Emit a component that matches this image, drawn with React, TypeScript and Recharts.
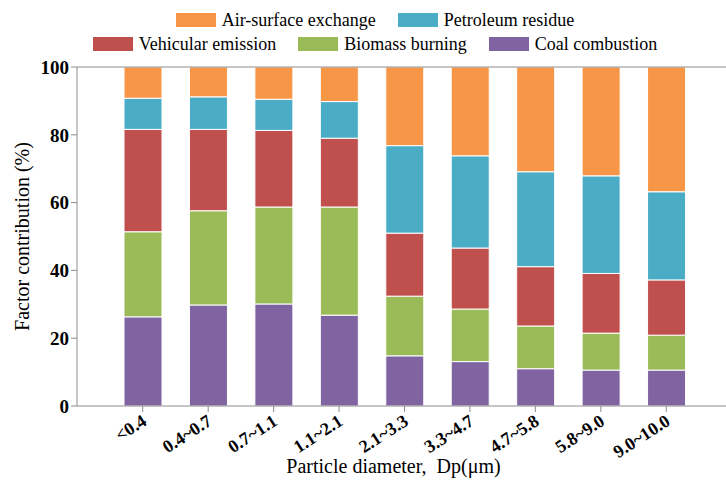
import React from "react";
import { BarChart, Bar, XAxis, YAxis, ReferenceLine } from "recharts";

const sizeBins = [
  "<0.4",
  "0.4~0.7",
  "0.7~1.1",
  "1.1~2.1",
  "2.1~3.3",
  "3.3~4.7",
  "4.7~5.8",
  "5.8~9.0",
  "9.0~10.0",
];

// stacked bottom -> top
const coalCombustion = [26.3, 29.8, 30.1, 26.8, 14.8, 13.1, 11.0, 10.6, 10.6];
const biomassBurning = [25.1, 27.8, 28.6, 31.9, 17.6, 15.5, 12.6, 10.9, 10.3];
const vehicularEmission = [30.2, 24.0, 22.6, 20.3, 18.6, 18.0, 17.5, 17.6, 16.3];
const petroleumResidue = [9.2, 9.6, 9.2, 10.8, 25.8, 27.2, 28.0, 28.8, 26.0];
const airSurfaceExchange = [9.2, 8.8, 9.5, 10.2, 23.2, 26.2, 30.9, 32.1, 36.8];

const yTicks = [0, 20, 40, 60, 80, 100];

const FONT = "Liberation Serif, Tinos, Times New Roman, Times, DejaVu Serif, serif";
const AXIS_GREY = "#8c8c8c";

const series = [
  { key: "coal", name: "Coal combustion", color: "#8064A2", values: coalCombustion },
  { key: "biomass", name: "Biomass burning", color: "#9BBB59", values: biomassBurning },
  { key: "vehicular", name: "Vehicular emission", color: "#C0504D", values: vehicularEmission },
  { key: "petroleum", name: "Petroleum residue", color: "#4BACC6", values: petroleumResidue },
  { key: "air", name: "Air-surface exchange", color: "#F79646", values: airSurfaceExchange },
];

const data = sizeBins.map((bin, i) => {
  const row: Record<string, string | number> = { bin };
  series.forEach((s) => {
    row[s.key] = s.values[i];
  });
  return row;
});

const legendRows = [
  ["air", "petroleum"],
  ["vehicular", "biomass", "coal"],
];

function ChartLegend() {
  return (
    <div
      style={{
        position: "absolute",
        top: 8,
        left: 25,
        width: 700,
        fontFamily: FONT,
        fontSize: 18,
        color: "#000",
      }}
    >
      {legendRows.map((row, r) => (
        <div
          key={r}
          style={{
            display: "flex",
            justifyContent: "center",
            height: 24,
            lineHeight: "24px",
            gap: 22,
          }}
        >
          {row.map((k) => {
            const s = series.find((x) => x.key === k)!;
            return (
              <div key={k} style={{ display: "flex", alignItems: "center" }}>
                <span
                  style={{
                    display: "inline-block",
                    width: 40,
                    height: 14,
                    background: s.color,
                    marginRight: 6,
                  }}
                />
                <span>{s.name}</span>
              </div>
            );
          })}
        </div>
      ))}
    </div>
  );
}

function XTick(props: any) {
  const { x, y, payload } = props;
  return (
    <g transform={`translate(${x + 5},${y + 10})`}>
      <text
        transform="rotate(-33)"
        textAnchor="end"
        fontFamily={FONT}
        fontSize={18}
        fontWeight="bold"
        fill="#000"
      >
        {payload.value}
      </text>
    </g>
  );
}

export default function App() {
  return (
    <div style={{ position: "absolute", left: 0, top: 0, width: 726, height: 490 }}>
      <BarChart
        width={726}
        height={490}
        data={data}
        margin={{ top: 67, right: 0, left: 0, bottom: 0 }}
        barSize={38}
      >
        <XAxis
          dataKey="bin"
          interval={0}
          height={84}
          padding={{ left: 33, right: 27 }}
          stroke={AXIS_GREY}
          tickSize={6}
          tick={<XTick />}
          label={{
            content: (p: any) => {
              const vb = p.viewBox;
              return (
                <text
                  x={vb.x + vb.width / 2 - 8}
                  y={vb.y + 60}
                  textAnchor="middle"
                  dominantBaseline="central"
                  fontFamily={FONT}
                  fontSize={20}
                  fill="#000"
                >
                  Particle diameter,{"\u00a0\u00a0"}Dp(μm)
                </text>
              );
            },
          }}
        />
        <YAxis
          width={77}
          domain={[0, 100]}
          ticks={yTicks}
          interval={0}
          stroke={AXIS_GREY}
          tickSize={6}
          tick={{ fontFamily: FONT, fontSize: 19, fontWeight: "bold", fill: "#000" }}
          label={{
            content: (p: any) => {
              const vb = p.viewBox;
              const cx = vb.x + 22;
              const cy = vb.y + vb.height / 2;
              return (
                <text
                  x={cx}
                  y={cy}
                  transform={`rotate(-90 ${cx} ${cy})`}
                  textAnchor="middle"
                  dominantBaseline="central"
                  fontFamily={FONT}
                  fontSize={20}
                  fill="#000"
                >
                  Factor contribution (%)
                </text>
              );
            },
          }}
        />
        <ReferenceLine y={100} stroke={AXIS_GREY} />
        {series.map((s) => (
          <Bar
            key={s.key}
            dataKey={s.key}
            name={s.name}
            stackId="a"
            fill={s.color}
            stroke="#ffffff"
            strokeWidth={1}
            isAnimationActive={false}
          />
        ))}
      </BarChart>
      <ChartLegend />
    </div>
  );
}
